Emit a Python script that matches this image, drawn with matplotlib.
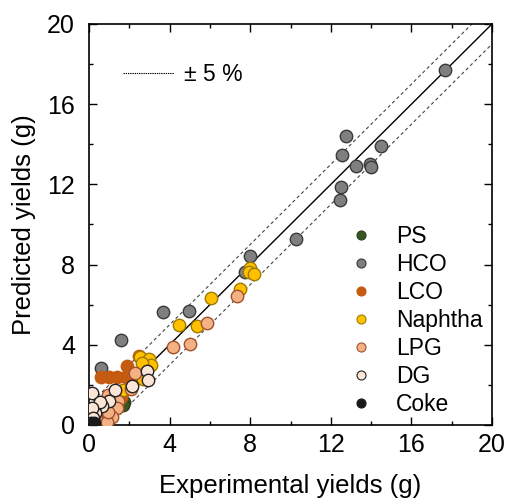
import numpy as np
import matplotlib
matplotlib.use("Agg")
from matplotlib import pyplot as plt
from matplotlib.lines import Line2D
from matplotlib.ticker import MultipleLocator

plt.rcParams['font.family'] = ['Liberation Sans', 'DejaVu Sans']

# Experimental (x) vs predicted (y) yields per product, in g
ps_x = [1.04, 1.75, 0.71, 1.7]
ps_y = [0.75, 1.16, 0.66, 1.0]

hco_x = [17.67, 12.74, 12.56, 14.51, 13.27, 13.93, 14.01, 12.49, 12.46,
         10.26, 7.97, 7.74, 4.96, 3.69, 1.6, 0.6]
hco_y = [17.7, 14.43, 13.47, 13.92, 12.92, 13.02, 12.87, 11.89, 11.24,
         9.26, 8.43, 7.65, 5.67, 5.65, 4.25, 2.84]

lco_x = [2.48, 0.6, 1.0, 1.4, 1.82, 2.22, 1.87, 1.46, 1.57, 1.09, 1.26, 1.62]
lco_y = [3.44, 2.41, 2.41, 2.41, 2.41, 2.24, 2.94, 1.25, 1.41, 0.8, 0.81, 1.58]

naphtha_x = [7.99, 7.96, 8.19, 7.51, 6.07, 5.34, 4.45, 2.53, 2.99, 3.06,
             2.65, 2.7, 1.69]
naphtha_y = [7.81, 7.61, 7.51, 6.77, 6.32, 4.94, 4.97, 3.37, 3.28, 2.99,
             3.08, 2.28, 1.76]

lpg_x = [7.33, 5.86, 5.02, 4.18, 2.28, 2.08, 0.95, 1.46, 1.37, 0.79, 0.93,
         1.12, 0.88, 0.96]
lpg_y = [6.45, 5.07, 4.05, 3.91, 2.58, 1.8, 1.48, 1.21, 0.83, 0.41, 0.41,
         0.41, 0.17, 0.66]

dg_x = [2.89, 2.94, 2.12, 1.29, 1.0, 0.63, 0.25, 0.14, 0.3, 0.55, 0.16, 0.21]
dg_y = [2.68, 2.24, 1.95, 1.76, 1.22, 0.95, 0.78, 1.58, 0.58, 1.16, 0.83, 0.33]

coke_x = [0.05, 0.15, 0.25, 0.1]
coke_y = [0.05, 0.02, 0.08, 0.12]

series = [
    ("PS", ps_x, ps_y, "#375623", "#2a4119"),
    ("HCO", hco_x, hco_y, "#7f7f7f", "#3a3a3a"),
    ("LCO", lco_x, lco_y, "#c55a11", "#c55a11"),
    ("Naphtha", naphtha_x, naphtha_y, "#ffc000", "#a07a00"),
    ("LPG", lpg_x, lpg_y, "#f4b183", "#a0522d"),
    ("DG", dg_x, dg_y, "#fbe5d6", "#222222"),
    ("Coke", coke_x, coke_y, "#1a1a1a", "#1a1a1a"),
]

fig = plt.figure(figsize=(5.07, 5.0), dpi=100)
ax = fig.add_axes([89 / 507, 75 / 500, 403 / 507, 401 / 500])

diag = np.array([0, 20])
ax.plot(diag, diag, color="black", lw=1.0, zorder=1)
ax.plot(diag, diag + 1, color="#444444", lw=0.8, ls=(0, (3, 2.5)), zorder=1)
ax.plot(diag, diag - 1, color="#444444", lw=0.8, ls=(0, (3, 2.5)), zorder=1)

handles = []
for name, xs, ys, fc, ec in series:
    ax.scatter(xs, ys, s=80, c=fc, edgecolors=ec, linewidths=1.0, zorder=3)
    handles.append(Line2D([], [], ls="none", marker="o", ms=6.5,
                          markerfacecolor=fc, markeredgecolor=ec,
                          markeredgewidth=0.8, label=name))

leg = ax.legend(handles=handles, loc="lower right", frameon=False,
                fontsize=16.5, handletextpad=0.55, labelspacing=0.22,
                borderaxespad=0, borderpad=0.4, bbox_to_anchor=(1.0, 0.0))
ax.add_artist(leg)

dash_handle = Line2D([], [], color="black", lw=0.8, ls=(0, (1.2, 0.8)))
ax.legend([dash_handle], ["± 5 %"], loc="upper left", frameon=False,
          fontsize=16.5, handlelength=2.2, handletextpad=0.45,
          borderaxespad=0, bbox_to_anchor=(0.062, 0.925))

ax.set_xlim(0, 20)
ax.set_ylim(0, 20)
ax.xaxis.set_major_locator(MultipleLocator(4))
ax.yaxis.set_major_locator(MultipleLocator(4))
ax.xaxis.set_minor_locator(MultipleLocator(2))
ax.yaxis.set_minor_locator(MultipleLocator(2))
ax.tick_params(which="both", direction="in", top=True, right=True,
               labelsize=18)
ax.tick_params(axis="x", pad=6)
ax.tick_params(axis="y", pad=10)
ax.tick_params(which="major", length=6, width=1)
ax.tick_params(which="minor", length=3, width=1)
for sp in ax.spines.values():
    sp.set_linewidth(1.2)

ax.set_xlabel("Experimental yields (g)", fontsize=18.5, labelpad=12)
ax.set_ylabel("Predicted yields (g)", fontsize=18.5, labelpad=8)

fig.savefig("out.png", dpi=100)
